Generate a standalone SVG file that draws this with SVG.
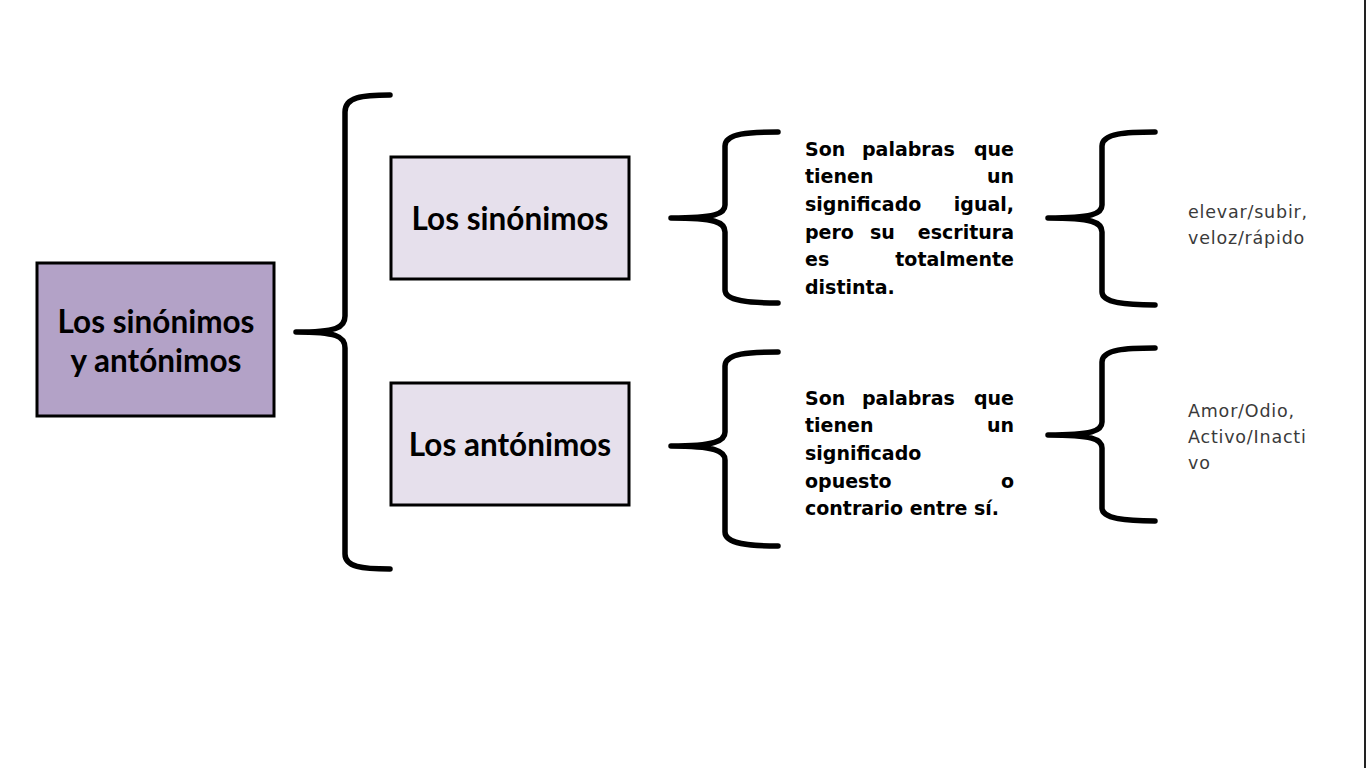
<svg xmlns="http://www.w3.org/2000/svg" width="1366" height="768" viewBox="0 0 1366 768">
<style>
.box{stroke:#000;stroke-width:3}
.title{font-family:Lato,"Open Sans",sans-serif;font-weight:bold;font-size:31.5px;fill:#000;text-anchor:middle}
.brace{fill:none;stroke:#000;stroke-width:5.5;stroke-linecap:round;stroke-linejoin:round}
.def{font-family:"DejaVu Sans",sans-serif;font-weight:bold;font-size:19px;fill:#000}
.ex{font-family:"DejaVu Sans",sans-serif;font-size:17.5px;fill:#3a3a3a;letter-spacing:0.8px}
.e{text-anchor:end}
</style>
<rect width="1366" height="768" fill="#fff"/>
<line x1="1365" y1="0" x2="1365" y2="768" stroke="#222" stroke-width="2"/>

<g id="connectors">
<path class="brace" d="M390,95 C362,95 345,97 345,112 L345,316 C345,328 336,332 296,332 C336,332 345,336 345,348 L345,554 C345,567 362,569 390,569"/>
<path class="brace" d="M778,132 C750,132 725,133 725,146 L725,205 C725,214 715,218 671,218 C715,218 725,222 725,232 L725,290 C725,301 750,303 778,303"/>
<path class="brace" d="M778,352 C750,352 725,353 725,366 L725,432 C725,441 715,446 671,446 C715,446 725,451 725,460 L725,532 C725,544 750,546 778,546"/>
<path class="brace" d="M1155,132 C1127,132 1102,133 1102,146 L1102,205 C1102,214 1092,218 1048,218 C1092,218 1102,222 1102,232 L1102,292 C1102,303 1127,305 1155,305"/>
<path class="brace" d="M1155,348 C1127,348 1102,349 1102,362 L1102,422 C1102,431 1092,435 1048,435 C1092,435 1102,439 1102,448 L1102,508 C1102,519 1127,521 1155,521"/>
</g>

<g id="root">
<rect class="box" x="37" y="263" width="237" height="153" fill="#b3a2c7"/>
<text class="title" x="156" y="333">Los sinónimos</text>
<text class="title" x="156" y="372">y antónimos</text>
</g>

<g id="sinonimos">
<rect class="box" x="391" y="157" width="238" height="122" fill="#e6e0ec"/>
<text class="title" x="510" y="230">Los sinónimos</text>
</g>

<g id="antonimos">
<rect class="box" x="391" y="383" width="238" height="122" fill="#e6e0ec"/>
<text class="title" x="510" y="456">Los antónimos</text>
</g>

<g id="def-sinonimos" class="def">
<text x="805" y="156">Son</text><text x="862" y="156">palabras</text><text class="e" x="1014" y="156">que</text>
<text x="805" y="183">tienen</text><text class="e" x="1014" y="183">un</text>
<text x="805" y="211">significado</text><text class="e" x="1014" y="211">igual,</text>
<text x="805" y="239">pero</text><text x="870" y="239">su</text><text class="e" x="1014" y="239">escritura</text>
<text x="805" y="266">es</text><text class="e" x="1014" y="266">totalmente</text>
<text x="805" y="294">distinta.</text>
</g>

<g id="def-antonimos" class="def">
<text x="805" y="405">Son</text><text x="862" y="405">palabras</text><text class="e" x="1014" y="405">que</text>
<text x="805" y="432">tienen</text><text class="e" x="1014" y="432">un</text>
<text x="805" y="460">significado</text>
<text x="805" y="488">opuesto</text><text class="e" x="1014" y="488">o</text>
<text x="805" y="515">contrario entre sí.</text>
</g>

<g id="ej-sinonimos" class="ex">
<text x="1188" y="218">elevar/subir,</text>
<text x="1188" y="244">veloz/rápido</text>
</g>

<g id="ej-antonimos" class="ex">
<text x="1188" y="417">Amor/Odio,</text>
<text x="1188" y="443">Activo/Inacti</text>
<text x="1188" y="469">vo</text>
</g>
</svg>
